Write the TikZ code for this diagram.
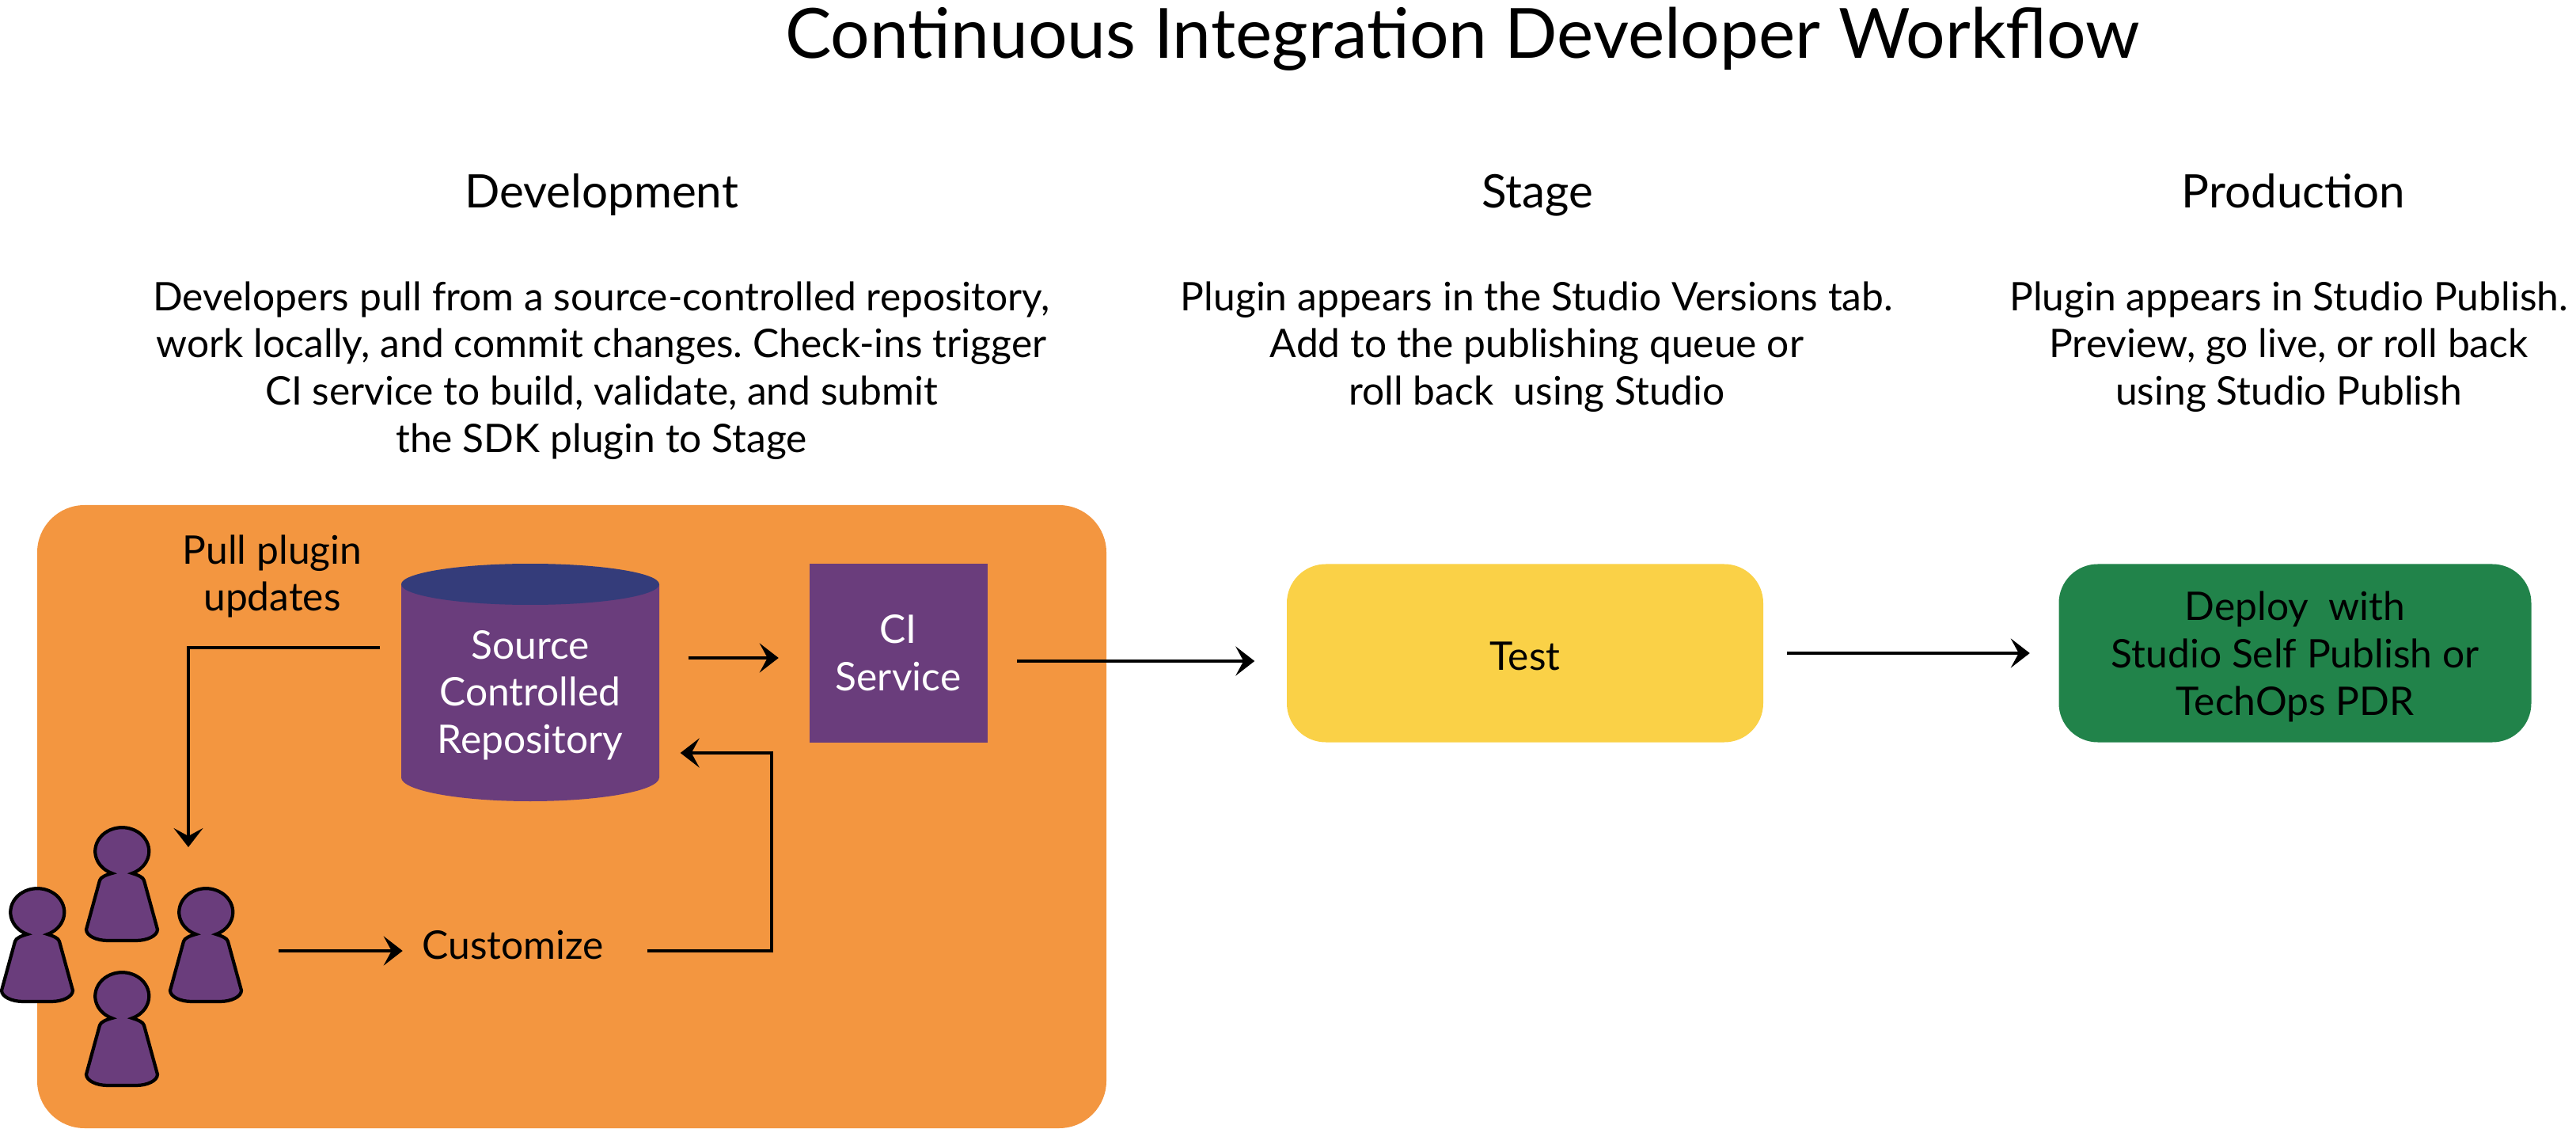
\documentclass[tikz,border=0pt]{standalone}
\usepackage{xcolor}
\usepackage{fontspec}
\setmainfont{Lato}
\usetikzlibrary{arrows.meta,calc,positioning}
\definecolor{devbox}{HTML}{F39640}
\definecolor{repofill}{HTML}{6A3D7C}
\definecolor{repotop}{HTML}{343C7A}
\definecolor{stagebox}{HTML}{FAD147}
\definecolor{prodbox}{HTML}{21834A}

\begin{document}
\frenchspacing
\begin{tikzpicture}[
    font=\fontsize{14.15}{17}\selectfont,
    flow/.style={black, -{Stealth[length=2.4mm,width=3.7mm,inset=1.0mm]}, line width=1.25pt},
    title/.style={font=\fontsize{24.9}{30}\selectfont},
    heading/.style={font=\fontsize{16.6}{20}\selectfont, anchor=base},
    note/.style={align=center, inner sep=0pt},
    tile/.style={rounded corners=14pt, minimum width=6.02cm, minimum height=2.25cm,
                 align=center, inner sep=0pt},
    person/.pic={
        \draw[fill=repofill, line width=1.2pt]
            (0.13,-0.27) arc[start angle=-68, end angle=248, x radius=0.34, y radius=0.30]
            .. controls (-0.20,-0.29) and (-0.27,-0.32) .. (-0.28,-0.36)
            -- (-0.45,-0.98)
            .. controls (-0.45,-1.06) and (-0.32,-1.12) .. (-0.18,-1.12)
            -- (0.18,-1.12)
            .. controls (0.32,-1.12) and (0.45,-1.06) .. (0.45,-0.98)
            -- (0.28,-0.36)
            .. controls (0.27,-0.32) and (0.20,-0.29) .. (0.13,-0.27)
            -- cycle;
    }
]

\useasboundingbox (0,0) rectangle (32.55,14.25);

% headings
\node[title] (mainTitle) at (18.48,13.76) {Continuous Integration Developer Workflow};
\node[heading] (devHead) at (7.60,11.62) {Development};
\node[heading] (stageHead) at (19.43,11.62) {Stage};
\node[heading] (prodHead) at (28.98,11.62) {Production};

\node[note] (devNote) at (7.60,9.57)
    {Developers pull from a source-controlled repository,\\
     work locally, and commit changes. Check-ins trigger\\
     CI service to build, validate, and submit\\
     the SDK plugin to Stage};
\node[note] (stageNote) at (19.42,9.87)
    {Plugin appears in the Studio Versions tab.\\
     Add to the publishing queue or\\
     roll back\ \ using Studio};
\node[note] (prodNote) at (28.92,9.87)
    {Plugin appears in Studio Publish.\\
     Preview, go live, or roll back\\
     using Studio Publish};

% development area
\fill[devbox, rounded corners=17pt] (0.47,0) rectangle (13.98,7.87);

% repository
\fill[repofill] (5.07,6.87) -- (5.07,4.43)
    arc[start angle=180, end angle=360, x radius=1.63, y radius=0.30]
    -- (8.33,6.87) -- cycle;
\fill[repotop] (6.70,6.87) ellipse[x radius=1.63, y radius=0.26];
\node[note, text=white, minimum width=3.26cm] (repo) at (6.70,5.47)
    {Source\\Controlled\\Repository};

\node[note, fill=repofill, text=white, minimum width=2.25cm, minimum height=2.25cm] (ciBox)
    at (11.35,6.00) {CI\\Service};

\node[note] (pullNote) at (3.44,6.97) {Pull plugin\\updates};
\node[note] (customize) at (6.48,2.31) {Customize};

% stage and production
\node[tile, fill=stagebox] (testBox) at (19.27,6.00) {\rule{0pt}{12.5pt}Test};
\node[tile, fill=prodbox, minimum width=5.97cm] (deployBox) at (29.00,6.00)
    {\rule{0pt}{13pt}Deploy\ \ with\\Studio Self Publish or\\TechOps PDR};

% developers
\foreach \x/\y in {1.54/3.49, 0.47/2.72, 2.60/2.72, 1.54/1.66}{
    \pic at (\x,\y) {person};
}

% connectors
\coordinate (pullEnd) at (2.38,3.55);
\coordinate (pullTurn) at (5.07,6.07);
\coordinate (repoOut) at (8.50,5.94);
\coordinate (repoIn) at (9.75,4.74);
\coordinate (peopleOut) at (3.52,2.24);

\draw[flow, shorten <=2.6mm] (repo.west |- pullTurn) -| (pullEnd);
\draw[flow, shorten <=3.6mm, shorten >=3.8mm] (repo.east |- repoOut) -- (ciBox.west |- repoOut);
\draw[flow, shorten <=5.5mm, shorten >=2.6mm] (customize.east |- peopleOut) -| (repoIn) -- (repo.east |- repoIn);
\draw[flow, shorten >=2.4mm] (peopleOut) -- (customize.west |- peopleOut);
\draw[flow, shorten <=3.7mm, shorten >=4.0mm] ([yshift=-1mm]ciBox.east) -- ([yshift=-1mm]testBox.west);
\draw[flow, shorten <=2.9mm, shorten >=3.6mm] (testBox.east) -- (deployBox.west);

\end{tikzpicture}
\end{document}
